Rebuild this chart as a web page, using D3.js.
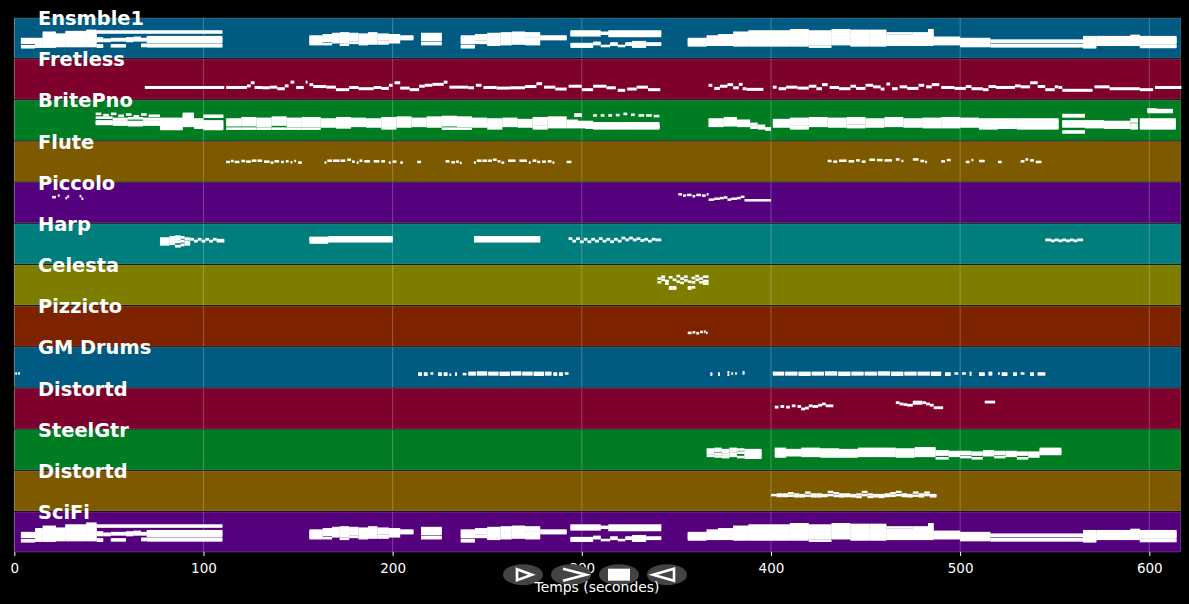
<!DOCTYPE html>
<html><head><meta charset="utf-8">
<style>html,body{margin:0;padding:0;background:#000}svg{display:block}text{font-family:"DejaVu Sans",sans-serif}</style>
<script src="https://cdn.jsdelivr.net/npm/d3@7/dist/d3.min.js"></script>
</head><body><svg id="c" width="1189" height="604"></svg>
<script>
// Each entry: [start second, end second, [MIDI pitches sounding in that span]]
const ensemble1 = [
[3.5,11,[60,56,52,48,37,34]],[11,15,[60,56,52,48,44,40,36]],[15,22,[80,76,72,68,64,60,56,52,48,44,40,36]],
[22,27,[74,70,66,62,58,54,50,46,42,38]],[27,38,[82,78,74,70,66,62,58,54,50,46,42,38]],[38,43.5,[86,82,78,74,70,66,62,58,54,50,46,42,38]],
[43.5,110,[84,81]],[43.5,47,[62,58,54,40,36]],[47,51,[58,54]],[51,59,[60,56,40,37]],[59,63,[62,58,54]],[63,67,[64,60,56]],[67,70,[60,56,42,38]],
[70,110,[66,62,58,54,50,41,37]],
[156,163,[68,64,60,56,52,48,44]],[163,168,[72,66,62,58,54,44]],[168,172,[76,72,68,64,60,56,50]],[172,177,[78,74,70,66,60,54,50,42]],
[177,182,[76,72,66,60,56,48]],[182,187,[74,68,64,60,54,50,44]],[187,192,[78,72,68,62,56,52,46]],[192,198,[74,70,64,60,52,46]],
[198,204,[72,68,62,58,50]],[204,211,[68,64,60]],[215,226,[76,72,66,62,58,48,44]],
[236,243.5,[68,64,60,56,52,48,38,34]],[243.5,250,[72,68,64,60,52,48]],[250,257,[76,72,66,60,56,52,46,42]],[257,263,[78,74,68,62,56,50,44]],
[263,270,[80,76,70,64,58,52,46]],[270,278,[78,74,68,60,54,48,44]],[278,292,[68,64,60]],
[294,310,[84,80,76,72]],[310,314,[80,77]],[314,342,[84,80,76,70]],[294,306,[44,40,36]],[306,310,[48,44]],[310,315,[38]],[315,319,[46,42]],[319,323,[38]],[323,326.5,[46,42]],[326.5,334,[50,46,42,36]],[334,342,[46,42]],
[356,366,[60,56,52,48,44,40]],[366,372,[68,64,60,56,52,46,42]],[372,380,[72,68,62,56,52,46,42]],[380,388,[80,74,70,66,62,58,54,50,44,40]],
[388,400,[84,80,76,72,68,64,60,56,52,48,44,40]],[400,410,[84,80,76,72,66,62,58,54,48,44,40]],[410,420,[88,84,80,76,72,68,64,60,54,50,46,40]],
[420,432,[84,80,76,70,66,62,58,52,48,44,36]],[432,442,[88,84,78,74,70,66,62,56,52,48,44]],[442,452,[86,82,76,72,68,64,58,54,50,44,40]],
[452,461,[86,82,76,72,68,64,60,56,52,48,44,40]],[461,486,[70,66,62,58,54,50,46,42]],[461,475,[78]],[475,486,[78,74]],[483,486,[88,84]],
[486,500,[64,60,56,52,48,44]],[500,516,[60,56,52,46,42,38]],[516,565,[55,51,41,37]],[565,572,[66,62,58,54,50,46,42,38,34]],
[572,595,[66,62,58,54,50,46,42]],[590,595,[70]],[595,614.4,[66,62,58,54,50,46,38,35]]
];
const fretless = [
[69,111,[37]],[112,123,[37]],[123,125,[42]],[125,127,[52]],[127,131,[37]],[131,135,[36]],[135,139,[38]],[139,143,[33]],[143,145,[42]],[146,148,[54]],[149,153,[37]],[154,155,[54]],[156,158,[46]],[158,165,[40]],[165,170,[38]],[170,177,[30]],[177,182,[37]],[182,190,[33]],[190,194,[37]],[194,198,[34]],[198,200,[44]],[201,204,[52]],[204,209,[35]],[209,214,[30]],[214,217,[41]],[217,221,[44]],[221,227,[47]],[227,229,[54]],[230,240,[38]],[240,243,[36]],[244,247,[44]],[248,255,[37]],[255,262,[35]],[262,270,[36]],[270,276,[40]],[276,279,[49]],[280,286,[38]],[286,292,[32]],[293,300,[41]],[300,306,[30]],[306,313,[41]],[313,318,[36]],[319,323,[28]],[324,329,[32]],[329,335,[38]],[335,341.5,[30]],
[367,369,[44]],[370,373,[34]],[373,377,[41]],[377,380,[46]],[380,383,[36]],[383,385,[47]],[385,387,[33]],[387,396,[31]],
[401,403,[38]],[404,408,[33]],[408,414,[38]],[414,420,[35]],[420,424,[41]],[424,427,[33]],[427,430,[46]],[431,436,[37]],[436,442,[33]],[442,445,[41]],[445,450,[34]],[450,454,[44]],[454,458,[39]],[458,460,[32]],[461,463,[48]],[464,467,[33]],[468,472,[39]],[472,478,[34]],[478,481,[44]],[482,485,[39]],[485,489,[46]],[490,497,[37]],[497,503,[34]],[503,506,[40]],[506,512,[33]],[512,515,[30]],[515,519,[40]],[519,529,[37]],[529,532,[42]],[532,537,[39]],[537,541,[52]],[541,545,[40]],[545,550,[30]],[550,552,[39]],[552,554,[37]],[554,570,[28]],[571,579,[39]],[579,595,[33]],[595,602,[30]],[603,617,[37]]
];
const britePno = [
[43,46,[84]],[47,50,[80]],[51,54,[84]],[55,58,[78]],[59,62,[82]],[63,66,[76]],[67,70,[82]],[71,77,[78]],[43,52,[72,60,56,52]],[52,60,[68,60,54,50]],[60,68,[70,58,54,48]],[68,77,[68,60,54,50]],
[77,89,[68,64,60,56,52,48,44,40,36]],[89,95,[84,80,76,72,68,64,60,56,52,46]],[95,100,[66,62,58,54,50,44,40]],[100,110.5,[78,75,60,56,52,48,44,40,36]],
[112,120,[66,60,56,52,48,37]],[120,128,[70,64,58,54,48,37]],[128,136,[68,62,56,52,46,37]],[136,144,[72,66,60,54,50,37]],[144,152,[68,62,56,50,46,37]],[152,162,[70,64,58,52,46,37]],
[162,170,[66,60,54,50,44]],[170,178,[70,64,58,52,48,41]],[178,186,[68,62,56,52,46]],[186,194,[66,60,54,48,44]],[194,202,[70,64,58,52,46,38]],[202,210,[72,66,60,54,50,44]],[210,218,[68,62,58,52,46]],[218,226,[72,66,62,56,50,44]],[226,234,[74,68,62,58,52,48,37]],[234,242,[72,66,60,56,50,46,37]],[242,250,[68,64,60,54,50,44]],[250,258,[66,60,54,50,44,38]],[258,266,[68,62,58,52,46]],[266,274,[64,60,54,48,44]],[274,282,[70,64,58,52,44,38]],[282,292,[72,66,60,54,48,42]],[292,298,[62,58,52,46,42]],
[296,300,[82,78]],[302,341,[48,44,40]],[298,306,[58,52,46,42]],[306,341,[54,50,46,42,38]],
[306,308,[79]],[310,312,[79]],[314,316,[79]],[318,320,[80]],[322,324,[84]],[326,328,[81]],[330,333,[79]],[334,337,[79]],[338,341,[77]],
[367,375,[66,62,56,50,46]],[375,382,[70,64,58,54,48]],[382,389,[62,56,50,46]],[389,393,[52,44,40]],[393,397,[46,38]],[397,400,[38,34]],
[401,410,[64,58,54,48,44]],[410,420,[68,62,56,50,42,38]],[420,430,[70,64,58,52,46]],[430,440,[68,62,54,50,44]],[440,450,[70,64,58,54,46,42]],[450,460,[66,60,54,50,44]],[460,470,[70,64,58,52,46]],[470,480,[66,60,56,50,44]],[480,490,[68,62,58,52,46,42]],[490,500,[70,64,58,52,46,42]],[500,510,[68,62,56,50,44]],[510,520,[66,62,56,50,44,38]],[520,530,[66,60,54,50,44,40]],[530,552,[66,62,58,54,50,46,42,38]],
[554,566,[80,76,60,56,52,48,44,28,25]],[566,576,[60,56,50,46,42]],[576,590,[58,52,48,44,40]],[590,594,[66,60,50,42,38]],[595,614,[66,62,58,54,50,46,42,38]],
[599,604,[98,94,90]],[604,612.5,[96,93,90]]
];
const flute = [
[112,114,[62]],[114.5,116,[65]],[116.5,119,[62]],[120,122,[65]],[122.5,125,[63]],[125.5,128,[66]],[128.5,131,[66]],[132,135,[63]],[135.5,137,[60]],[137.5,140,[64]],[141,142.5,[62]],[143.5,145,[64]],[146,147,[61]],[148,149,[65]],[150,152,[60]],
[164,165,[60]],[165.5,168,[66]],[168.5,172,[66]],[172.5,175,[66]],[176,178,[69]],[178.5,180,[63]],[181,182,[60]],[182.5,184,[66]],[185,188,[64]],[190,193,[64]],[194,196,[64]],[198,199,[60]],[200,202,[63]],[204,205.5,[60]],
[213,215,[62]],[228,230,[64]],[231,233,[61]],[233.5,235,[63]],[235.5,236.5,[59]],
[243,244,[60]],[244.5,247,[66]],[247.5,250,[66]],[250.5,252.5,[66]],[253,255,[69]],[255.5,257,[64]],[257.5,259,[60]],[261,265,[66]],[267,271,[66]],[272,273,[60]],[274,276,[66]],[276.5,278,[62]],[279,281,[63]],[282,284,[64]],[284.5,285.5,[60]],[292,294.5,[62]],
[430,432,[65]],[433,435,[63]],[436,440,[66]],[441,444,[64]],[445,447,[67]],[448,450,[63]],[452,455,[69]],[456,459,[68]],[460,464,[67]],[466,468,[70]],[469,470,[65]],
[475,478,[70]],[479,481,[65]],[481.5,482.5,[62]],[490,492,[64]],[493,495,[68]],[503,505,[62]],[506,507,[68]],[510,513,[65]],[520,522,[62]],[532,534,[64]],[534.5,536,[70]],[537,539,[67]],[540,543,[62]]
];
const piccolo = [
[20,22,[81]],[23,24,[86]],[27,28,[78]],[28,29,[83]],[34.5,35.5,[84]],[35.5,36.5,[76]],
[351,353,[90]],[353.5,355,[86]],[355.5,358,[88]],[358.5,360,[84]],[360.5,363,[88]],[363.5,365.5,[86]],[366,367,[90]],
[367,370,[73]],[370,373,[76]],[373,375,[78]],[375,377,[80]],[377,379,[73]],[379,382,[76]],[382,384,[78]],[384,386,[82]],[386,400,[71]]
];
const harp = [
[77,82,[80,74,68,62]],[82,85,[84,76,70,64]],[85,88,[86,78,70,56]],[88,90,[84,72,60]],[90,93,[80,70,62]],
[93,95,[78]],[95,97,[72]],[97,99,[78]],[99,101,[72]],[101,103,[78]],[103,105,[72]],[105,107,[78]],[107,111,[75,72]],
[156,166,[82,78,74,68]],[166,200,[84,80,76,72]],[243,278,[84,80,76,72]],
[293,295,[80]],[295,297,[72]],[297,299,[80]],[299,301,[70]],[301,303,[78]],[303,305,[70]],[305,307,[78]],[307,309,[72]],[309,311,[80]],[311,313,[72]],[313,315,[78]],[315,317,[70]],[317,319,[78]],[319,321,[72]],[321,323,[82]],[323,325,[76]],[325,327,[82]],[327,329,[76]],[329,331,[80]],[331,333,[74]],[333,335,[78]],[335,337,[72]],[337,339,[78]],[339,342,[76]],
[545,548,[76]],[548,550,[73]],[550,552,[76]],[552,554,[73]],[554,556,[76]],[556,558,[73]],[558,560,[76]],[560,562,[73]],[562,565,[76]]
];
const celesta = [
[340,342,[84,72]],[342,344,[90,80]],[344,346,[76,68]],[346,348,[88,56,52]],[348,350,[80,56,52]],[350,352,[92,74]],[352,354,[84,70]],[354,356,[90,78]],[356,358,[74,56,52]],[358,360,[86,72,56]],[360,362,[92,80]],[362,364,[84,72]],[364,367,[90,76,68]]
];
const pizzicato = [[356,358,[42]],[358.5,360,[44]],[360.5,362,[41]],[362.5,364,[45]],[364.5,365.5,[46]],[365.7,366.5,[42]]];
const gmDrums = [
[0.5,1.5,[44]],[2,3,[44]],
[213.5,215.5,[44,40]],[216.5,218.5,[44,40]],[220,221.5,[44]],[224,226,[44,40]],[227,229,[44,40]],[230,231,[40]],[233,234,[44,40]],[237,239,[42]],
[240,244,[46,41]],[244.5,250,[47,41]],[250.5,256,[46,41]],[256.5,262,[46,40]],[262.5,268,[47,41]],[268.5,274,[46,41]],[274.5,280,[46,40]],[280.5,284,[46,41]],[285,287,[44,40]],[288,290,[44,40]],[291,293,[44]],
[368,369,[44,40]],[372,373,[44,40]],[377,378,[48,40]],[379,380,[44]],[381,382,[44]],[385,386,[48,44]],
[401,407,[46,41]],[407.5,414,[46,41]],[414.5,421,[46,40]],[421.5,428,[46,41]],[428.5,435,[47,41]],[435.5,442,[46,40]],[442.5,449,[46,41]],[449.5,456,[46,41]],[456.5,463,[47,41]],[463.5,470,[46,40]],[470.5,477,[46,41]],[477.5,484,[46,41]],[484.5,490,[46,40]],[492,495,[44,40]],[497,499,[44]],[501,503,[44]],[505,506,[46,40]],[510,513,[44,40]],[515,517,[46,41]],[520,521,[44]],[522,525,[44,40]],[528,530,[44,40]],[532,534,[44]],[537,539,[44,40]],[541,545,[44,41]]
];
const distortd1 = [
[402,404,[68]],[405,407,[70]],[408,410,[68]],[411,413,[72]],[414,416,[70]],[416,418,[62]],[418,420,[65]],[420,422,[72]],[422,425,[70]],[425,427,[74]],[427,429,[78]],[429,433,[72]],
[466,468,[82]],[468,470,[78]],[470,472,[76]],[472,475,[74]],[475,480,[84,80]],[480,482,[82]],[482,484,[78]],[484,486,[74]],[486,491,[66]],[513,518.5,[84]]
];
const steelGtr = [
[366,370,[64,60,52,44]],[370,374,[66,60,50,42]],[374,378,[62,56,48,40]],[378,382,[66,58,50,44]],[382,386,[64,54,40]],[386,395,[62,58,54,50,46,42,38]],
[402,408,[66,62,58,54,46,42]],[408,416,[62,58,54,50,46]],[416,426,[66,60,56,50,44]],[426,436,[64,58,52,48,42]],[436,446,[62,56,52,46,42]],[446,456,[66,60,54,50,44]],[456,466,[66,62,56,50,44]],[466,476,[64,58,52,46,42]],[476,487,[68,64,60,54,50,44]],
[487,494,[58,52,48,36]],[494,500,[56,50,44]],[500,506,[56,50,40]],[506,512,[54,48,36]],[512,518,[58,52,46]],[518,524,[56,50,40]],[524,530,[56,50,44]],[530,536,[54,48,36]],[536,542,[54,48,42]],
[542,553.5,[66,62,58,54,50]]
];
const distortd2 = [
[400,403,[50]],[403,406,[52,47]],[406,409,[52,47]],[409,412,[56,48]],[412,415,[52,46]],[415,418,[50,46]],[418,421,[58,48]],[421,424,[52,46]],[424,427,[52,46]],[427,430,[50,47]],[430,433,[60,50]],[433,436,[56,47]],[436,439,[52,46]],[439,442,[52,47]],[442,445,[50,46]],[445,448,[52,44]],[448,451,[60,50]],[451,454,[52,44]],[454,457,[50,46]],[457,460,[50,44]],[460,463,[52,47]],[463,466,[56,48]],[466,469,[60,50]],[469,472,[52,47]],[472,475,[50,46]],[475,478,[58,48]],[478,481,[52,46]],[481,484,[58,50]],[484,487.5,[50,46]]
];
const sciFi = ensemble1.concat([[11,15,[72,68,64]],[27,38,[84]],[38,43.5,[90]]]);

const trackNames = ["Ensmble1","Fretless","BritePno","Flute","Piccolo","Harp","Celesta","Pizzicto","GM Drums","Distortd","SteelGtr","Distortd","SciFi"];
const trackNotes = [ensemble1,fretless,britePno,flute,piccolo,harp,celesta,pizzicato,gmDrums,distortd1,steelGtr,distortd2,sciFi];
const trackColors = ["#005a82","#7d002d","#007d23","#7d5a00","#55007d","#007d7d","#7d7d00","#7d2300","#005a82","#7d002d","#007d23","#7d5a00","#55007d"];
const noteThickness = [2.6,3,2.6,2.5,2.5,2.8,2.6,2.6,2.5,2.8,2.6,2.4,2.6];
const tickValues = [0,100,200,300,400,500,600];

const svg = d3.select("#c");
svg.append("defs").append("filter").attr("id","soft").attr("x","-2%").attr("y","-20%").attr("width","104%").attr("height","140%")
  .append("feGaussianBlur").attr("stdDeviation",0.35);
const x = d3.scaleLinear().domain([0,616.6]).range([14.3,1180.7]);
const rowIdx = d3.range(trackNames.length);
const row = d3.scaleBand().domain(rowIdx).range([18,552]).paddingInner(0.03);
const pitch = d3.scaleLinear().domain([0,127]).range([row.bandwidth(),0]);

const rows = svg.selectAll("g.row").data(rowIdx).join("g").attr("class","row")
  .attr("transform",i=>`translate(0,${row(i)})`);
rows.append("rect").attr("x",x(0)).attr("width",x.range()[1]-x(0)).attr("height",row.bandwidth())
  .attr("fill",i=>trackColors[i]).attr("stroke","#fff").attr("stroke-opacity",0.3).attr("stroke-width",0.6);
rows.selectAll("line.grid").data(tickValues).join("line").attr("class","grid")
  .attr("x1",d=>x(d)).attr("x2",d=>x(d)).attr("y1",0).attr("y2",row.bandwidth())
  .attr("stroke","#fff").attr("stroke-opacity",0.28).attr("stroke-width",0.9);
rows.each(function(i){
  const notes = trackNotes[i].flatMap(([s,e,ps])=>ps.map(p=>({s,e,p})));
  d3.select(this).append("g").attr("filter","url(#soft)")
    .selectAll("rect.note").data(notes).join("rect").attr("class","note")
    .attr("x",d=>x(d.s)).attr("width",d=>Math.max(0,x(d.e)-x(d.s)))
    .attr("y",d=>pitch(d.p)-noteThickness[i]/2).attr("height",noteThickness[i])
    .attr("fill","#fff");
});

const axis = svg.append("g").attr("transform","translate(0,552)")
  .call(d3.axisBottom(x).tickValues(tickValues).tickSize(4).tickPadding(7).tickFormat(d3.format("d")));
axis.select(".domain").remove();
axis.selectAll("line").attr("stroke","#fff");
axis.selectAll("text").attr("fill","#fff").attr("font-size",13.5).attr("font-family","DejaVu Sans");

// Player controls overlay
const controlGlyphs = [
 {cx:523,d:"M-6,-5.5L9,0L-6,5.5Z",fill:"none",sw:2.6},
 {cx:571,d:"M-8,-6L15,0L-8,6",fill:"none",sw:2.6},
 {cx:619,d:"M-11,-6H11V6H-11Z",fill:"#fff",sw:0},
 {cx:667,d:"M-14,0L7,-6V6Z",fill:"none",sw:2.6}
];
const ctl = svg.selectAll("g.ctl").data(controlGlyphs).join("g").attr("class","ctl")
  .attr("transform",d=>`translate(${d.cx},574.7)`);
ctl.append("ellipse").attr("rx",20).attr("ry",10.5).attr("fill","#444");
ctl.append("path").attr("d",d=>d.d).attr("fill",d=>d.fill).attr("stroke","#fff").attr("stroke-width",d=>d.sw);

svg.append("text").attr("x",597).attr("y",592).attr("text-anchor","middle").attr("fill","#fff").attr("font-size",13.9).text("Temps (secondes)");
svg.selectAll("text.lab").data(rowIdx).join("text").attr("class","lab")
  .attr("x",38).attr("y",i=>row(i)+7).attr("fill","#fff").attr("font-size",19.4).attr("font-weight","bold").text(i=>trackNames[i]);
</script></body></html>
